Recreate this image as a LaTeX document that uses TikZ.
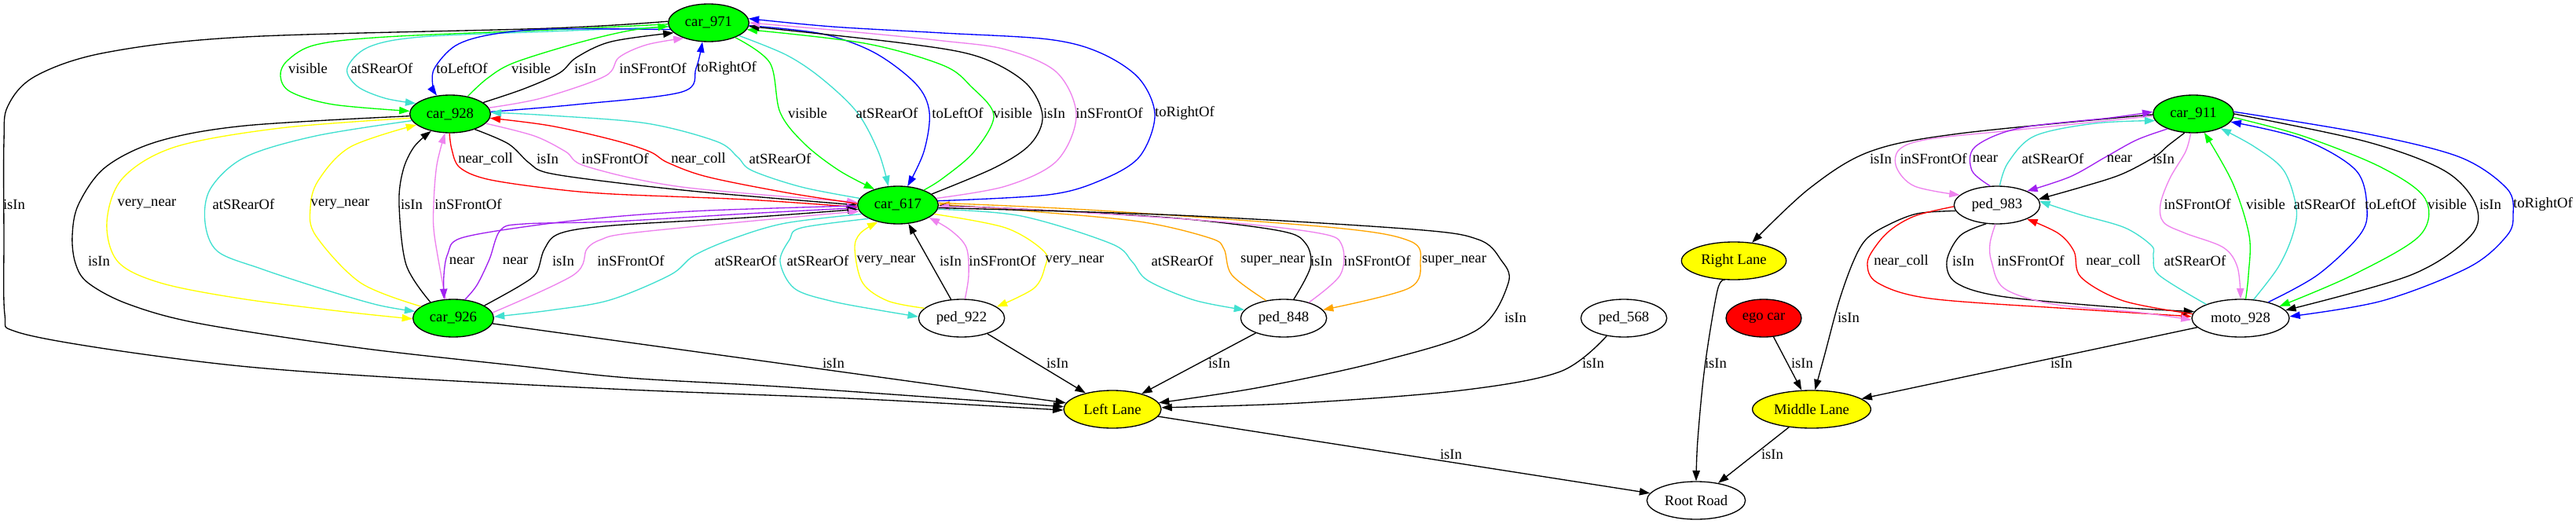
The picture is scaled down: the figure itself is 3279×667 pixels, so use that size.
\documentclass[tikz,border=0pt]{standalone}
\usepackage{fontspec}
\setmainfont{Liberation Serif}
\usetikzlibrary{shapes.geometric,arrows.meta}
\definecolor{gvgreen}{RGB}{0,255,0}
\definecolor{gvturq}{RGB}{64,224,208}
\definecolor{gvblue}{RGB}{0,0,255}
\definecolor{gvviolet}{RGB}{238,130,238}
\definecolor{gvpurple}{RGB}{160,32,240}
\definecolor{gvred}{RGB}{255,0,0}
\definecolor{gvyellow}{RGB}{255,255,0}
\definecolor{gvorange}{RGB}{255,165,0}
\newcommand\gvedge[2]{\draw[gvline,#1] plot[smooth,tension=0.55] coordinates {#2};}
\newcommand\gvlab[3]{\node[gvlbl] (#1) at (#2) {#3};}
\tikzset{
  gvnode/.style={ellipse, draw=black, line width=1pt, minimum height=36pt, inner sep=0pt, font=\fontsize{14pt}{16pt}\selectfont},
  carnode/.style={gvnode, fill=gvgreen, minimum width=77pt},
  pednode/.style={gvnode, fill=white, minimum width=82pt},
  lanenode/.style={gvnode, fill=gvyellow},
  gvlbl/.style={inner sep=0pt, font=\fontsize{14pt}{16pt}\selectfont},
  gvline/.style={line width=1pt, -{Triangle[length=10pt,width=7pt]}},
}
\begin{document}
\begin{tikzpicture}[x=0.75pt,y=-0.75pt]
\useasboundingbox[fill=white] (0,0) rectangle (3279,667);
% nodes
\node[carnode] (c971) at (902,29) {car\_971};
\node[carnode] (c928) at (573,145) {car\_928};
\node[carnode] (c617) at (1143,261) {car\_617};
\node[carnode] (c926) at (577,405) {car\_926};
\node[carnode] (c911) at (2792,145) {car\_911};
\node[pednode] (p922) at (1224,405) {ped\_922};
\node[pednode] (p848) at (1634,405) {ped\_848};
\node[pednode] (p568) at (2067,405) {ped\_568};
\node[pednode] (p983) at (2542,261) {ped\_983};
\node[pednode, minimum width=93pt] (m928) at (2852,405) {moto\_928};
\node[lanenode, minimum width=93pt] (LL) at (1416,521) {Left Lane};
\node[lanenode, minimum width=100pt] (RL) at (2207,332) {Right Lane};
\node[lanenode, minimum width=113pt] (ML) at (2306,521) {Middle Lane};
\node[gvnode, fill=white, minimum width=94pt] (RR) at (2159,637) {Root Road};
\node[gvnode, fill=gvred, minimum width=72pt] (ego) at (2245,405) {ego car};

% edges
\gvedge{black}{(c971.178) (700,36) (312,47) (134,67) (45,97) (10,135) (5,180) (5,300) (6,400) (20,422) (128,443) (306,466) (510,481) (800,496) (1100,508) (LL.181)}
\gvedge{black}{(c928.183) (312,160) (201,180) (134,213) (100,260) (92,300) (96,335) (112,360) (163,387) (255,412) (459,443) (663,466) (800,481) (1006,493) (LL.177)}
\gvedge{gvgreen}{(c971.182) (700,38) (491,47) (402,57) (366,77) (357,97) (370,117) (424,133) (c928.176)}
\gvedge{gvturq}{(c971.186) (700,40) (536,47) (469,60) (442,87) (455,110) (490,125) (c928.163)}
\gvedge{gvblue}{(c971.190) (700,37) (625,44) (580,58) (553,87) (551,110) (c928.126)}
\gvedge{gvgreen}{(c928.45) (620,100) (654,80) (734,55) (801,39) (c971.185)}
\gvedge{black}{(c928.19) (667,113) (712,93) (734,73) (778,53) (c971.196)}
\gvedge{gvviolet}{(c928.9) (689,125) (770,97) (788,73) (823,57) (c971.212)}
\gvedge{gvblue}{(c928.3) (734,133) (868,117) (886,87) (c971.252)}
\gvedge{gvgreen}{(c971.331) (980,80) (993,143) (1024,183) (1068,217) (c617.146)}
\gvedge{gvturq}{(c971.337) (1001,70) (1046,100) (1091,143) (1118,193) (c617.117)}
\gvedge{gvblue}{(c971.356) (1046,43) (1113,67) (1166,107) (1183,143) (1176,193) (c617.63)}
\gvedge{gvgreen}{(c617.30) (1200,227) (1240,193) (1265,147) (1236,110) (1200,83) (1100,55) (c971.350)}
\gvedge{black}{(c617.18) (1267,213) (1312,183) (1327,147) (1305,105) (1245,72) (1150,55) (c971.355)}
\gvedge{gvviolet}{(c617.10) (1280,237) (1345,205) (1370,147) (1345,92) (1280,63) (1200,52) (1080,40) (c971.0)}
\gvedge{gvblue}{(c617.6) (1334,248) (1400,230) (1450,200) (1470,147) (1450,100) (1400,67) (1334,50) (1200,42) (1060,34) (c971.6)}
\gvedge{gvred}{(c928.268) (575,190) (585,213) (620,228) (700,240) (780,247) (950,254) (c617.183)}
\gvedge{black}{(c928.328) (647,183) (673,207) (697,220) (780,232) (900,245) (c617.180)}
\gvedge{gvviolet}{(c928.345) (680,173) (720,193) (747,212) (868,238) (c617.176)}
\gvedge{gvred}{(c617.178) (1000,245) (900,225) (850,207) (827,193) (780,178) (700,160) (c928.354)}
\gvedge{gvturq}{(c617.170) (1020,238) (957,217) (939,200) (912,180) (823,157) (700,147) (c928.2)}
\gvedge{gvyellow}{(c928.186) (357,163) (223,187) (156,227) (136,283) (150,333) (204,360) (306,380) (440,397) (c926.181)}
\gvedge{gvturq}{(c928.190) (402,173) (312,200) (268,240) (261,283) (277,320) (332,342) (408,367) (480,388) (c926.170)}
\gvedge{gvyellow}{(c926.160) (459,360) (402,300) (395,265) (405,230) (446,187) (c928.198)}
\gvedge{black}{(c926.145) (517,337) (508,260) (513,217) (527,187) (c928.222)}
\gvedge{gvviolet}{(c926.112) (553,300) (552,260) (556,210) (c928.255)}
\gvedge{gvpurple}{(c617.181) (900,268) (780,276) (680,287) (587,303) (570,323) (565,350) (c926.116)}
\gvedge{gvpurple}{(c926.58) (607,363) (623,330) (637,293) (667,285) (780,282) (950,272) (c617.184)}
\gvedge{black}{(c926.22) (663,363) (683,347) (693,317) (713,297) (780,287) (950,277) (c617.186)}
\gvedge{gvviolet}{(c926.8) (730,350) (747,317) (765,305) (800,297) (950,282) (c617.189)}
\gvedge{gvturq}{(c617.194) (1000,284) (935,303) (884,325) (853,350) (776,382) (700,395) (c926.2)}
\gvedge{gvturq}{(c617.205) (1020,290) (1005,305) (993,333) (1011,367) (1057,383) (1120,395) (p922.178)}
\gvedge{gvyellow}{(p922.165) (1130,383) (1098,360) (1088,317) (1095,297) (c617.220)}
\draw[gvline] (p922) -- (c617);
\gvedge{gvviolet}{(p922.80) (1233,350) (1230,315) (1210,293) (c617.338)}
\gvedge{gvyellow}{(c617.346) (1280,290) (1329,320) (1330,340) (1316,367) (p922.18)}
\gvedge{gvturq}{(c617.354) (1300,275) (1414,310) (1441,333) (1461,357) (1520,382) (p848.168)}
\gvedge{gvorange}{(p848.135) (1568,350) (1558,317) (1540,303) (1450,282) (1300,268) (c617.1)}
\gvedge{black}{(p848.62) (1668,340) (1662,310) (1630,294) (1500,278) (1300,266) (c617.359)}
\gvedge{gvviolet}{(p848.32) (1706,350) (1708,312) (1680,297) (1550,282) (1300,266) (c617.358)}
\gvedge{gvorange}{(c617.3) (1400,268) (1700,290) (1795,307) (1808,333) (1793,367) (p848.12)}
\gvedge{black}{(c617.356) (1500,274) (1800,292) (1882,305) (1910,330) (1920,360) (1880,420) (1757,460) (1604,493) (LL.8)}
\gvedge{black}{(p568.226) (1986,473) (1859,497) (1655,513) (LL.2)}
\draw[gvline] (p848) -- (LL);
\draw[gvline] (p922) -- (LL);
\draw[gvline] (c926) -- (LL);
\draw[gvline] (LL) -- (RR);
\gvedge{black}{(RL.245) (2186,370) (2170,467) (2161,560) (RR.90)}
\draw[gvline] (ego) -- (ML);
\draw[gvline] (ML) -- (RR);
\gvedge{black}{(p983.188) (2440,272) (2400,288) (2375,305) (2359,333) (2341,383) (2323,450) (ML.80)}
\draw[gvline] (m928) -- (ML);
\gvedge{black}{(c911.181) (2494,170) (2380,193) (2303,240) (RL.45)}
\gvedge{gvviolet}{(c911.183) (2571,165) (2456,177) (2418,190) (2414,213) (2437,237) (p983.165)}
\gvedge{gvpurple}{(p983.110) (2510,217) (2514,187) (2571,163) (2686,150) (c911.177)}
\gvedge{gvturq}{(p983.82) (2556,207) (2590,173) (2667,157) (c911.190)}
\gvedge{gvpurple}{(c911.210) (2720,178) (2680,200) (2635,225) (p983.25)}
\gvedge{black}{(c911.245) (2760,185) (2742,200) (2700,222) (2650,238) (p983.8)}
\gvedge{gvred}{(p983.182) (2440,274) (2410,290) (2390,310) (2377,335) (2390,360) (2457,380) (2636,393) (m928.178)}
\gvedge{black}{(p983.240) (2495,300) (2478,333) (2490,360) (2546,377) (2680,390) (m928.172)}
\gvedge{gvviolet}{(p983.265) (2533,310) (2535,333) (2551,367) (2613,387) (2725,398) (m928.182)}
\gvedge{gvred}{(m928.175) (2703,383) (2649,353) (2640,320) (2620,297) (p983.335)}
\gvedge{gvturq}{(m928.158) (2748,350) (2741,327) (2739,313) (2705,290) (2647,273) (p983.5)}
\gvedge{gvviolet}{(c911.262) (2782,193) (2762,227) (2750,260) (2754,283) (2782,297) (2830,315) (2848,340) (m928.90)}
\gvedge{gvgreen}{(m928.75) (2862,350) (2863,300) (2842,233) (c911.300)}
\gvedge{gvturq}{(m928.55) (2900,340) (2918,300) (2923,265) (2907,217) (2870,187) (c911.332)}
\gvedge{gvblue}{(m928.30) (2950,350) (3003,300) (3013,267) (2999,217) (2931,177) (c911.348)}
\gvedge{gvgreen}{(c911.355) (2931,173) (3031,213) (3087,253) (3080,300) (2995,350) (m928.17)}
\gvedge{black}{(c911.0) (3011,180) (3111,217) (3151,260) (3145,300) (3069,350) (m928.10)}
\gvedge{gvblue}{(c911.3) (3011,170) (3131,200) (3191,240) (3199,273) (3191,300) (3143,340) (3032,383) (m928.2)}

% labels
\gvlab{t1}{392,87}{visible}
\gvlab{t2}{486,87}{atSRearOf}
\gvlab{t3}{588,87}{toLeftOf}
\gvlab{t4}{676,87}{visible}
\gvlab{t5}{745,87}{isIn}
\gvlab{t6}{831,87}{inSFrontOf}
\gvlab{t7}{925,87}{toRightOf}
\gvlab{t8}{1028,144}{visible}
\gvlab{t9}{1129,144}{atSRearOf}
\gvlab{t10}{1219,144}{toLeftOf}
\gvlab{t11}{1289,144}{visible}
\gvlab{t12}{1342,144}{isIn}
\gvlab{t13}{1412,144}{inSFrontOf}
\gvlab{t14}{1508,144}{toRightOf}
\gvlab{t15}{18,260}{isIn}
\gvlab{t16}{618,202}{near\_coll}
\gvlab{t17}{697,202}{isIn}
\gvlab{t18}{783,202}{inSFrontOf}
\gvlab{t19}{889,202}{near\_coll}
\gvlab{t20}{993,202}{atSRearOf}
\gvlab{t21}{2394,202}{isIn}
\gvlab{t22}{2461,202}{inSFrontOf}
\gvlab{t23}{2527,202}{near}
\gvlab{t24}{2613,202}{atSRearOf}
\gvlab{t25}{2698,202}{near}
\gvlab{t26}{2754,202}{isIn}
\gvlab{t27}{187,260}{very\_near}
\gvlab{t28}{310,260}{atSRearOf}
\gvlab{t29}{433,260}{very\_near}
\gvlab{t30}{524,260}{isIn}
\gvlab{t31}{596,260}{inSFrontOf}
\gvlab{t32}{2797,260}{inSFrontOf}
\gvlab{t33}{2884,260}{visible}
\gvlab{t34}{2959,260}{atSRearOf}
\gvlab{t35}{3043,260}{toLeftOf}
\gvlab{t36}{3115,260}{visible}
\gvlab{t37}{3170,260}{isIn}
\gvlab{t38}{3237,260}{toRightOf}
\gvlab{t39}{126,332}{isIn}
\gvlab{t40}{588,332}{near}
\gvlab{t41}{656,332}{near}
\gvlab{t42}{717,332}{isIn}
\gvlab{t43}{803,332}{inSFrontOf}
\gvlab{t44}{949,332}{atSRearOf}
\gvlab{t45}{1041,332}{atSRearOf}
\gvlab{t46}{1128,332}{very\_near}
\gvlab{t47}{1210,332}{isIn}
\gvlab{t48}{1276,332}{inSFrontOf}
\gvlab{t49}{1368,332}{very\_near}
\gvlab{t50}{1505,332}{atSRearOf}
\gvlab{t51}{1620,332}{super\_near}
\gvlab{t52}{1682,332}{isIn}
\gvlab{t53}{1753,332}{inSFrontOf}
\gvlab{t54}{1851,332}{super\_near}
\gvlab{t55}{2420,332}{near\_coll}
\gvlab{t56}{2499,332}{isIn}
\gvlab{t57}{2585,332}{inSFrontOf}
\gvlab{t58}{2690,332}{near\_coll}
\gvlab{t59}{2794,332}{atSRearOf}
\gvlab{t60}{1929,404}{isIn}
\gvlab{t61}{2353,404}{isIn}
\gvlab{t62}{1061,462}{isIn}
\gvlab{t63}{1346,462}{isIn}
\gvlab{t64}{1552,462}{isIn}
\gvlab{t65}{2028,462}{isIn}
\gvlab{t66}{2184,462}{isIn}
\gvlab{t67}{2294,462}{isIn}
\gvlab{t68}{2624,462}{isIn}
\gvlab{t69}{1847,578}{isIn}
\gvlab{t70}{2256,578}{isIn}
\end{tikzpicture}
\end{document}
